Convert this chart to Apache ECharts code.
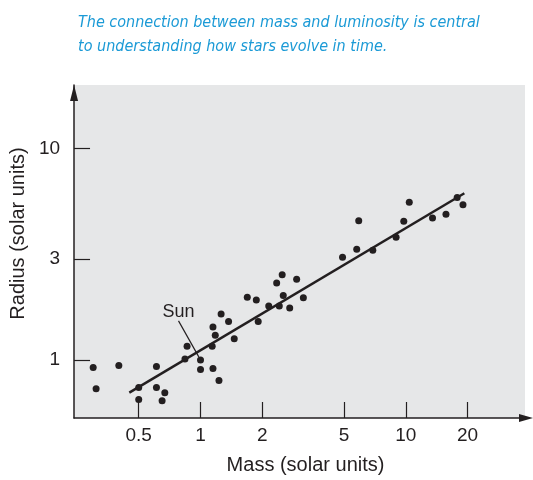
<!DOCTYPE html>
<html>
<head>
<meta charset="utf-8">
<script src="https://cdn.jsdelivr.net/npm/echarts@6/dist/echarts.min.js"></script>
<style>
  html, body { margin: 0; padding: 0; background: #fff; }
  #chart-mass-radius { width: 533px; height: 480px; }
</style>
</head>
<body>
<div id="chart-mass-radius"></div>
<script>
// main-sequence stars: mass vs radius (solar units)
const STAR_MASS = [0.30, 0.31, 0.40, 0.61, 0.50, 0.50, 0.61, 0.67, 0.65, 0.86, 0.84, 1.00,
  1.00, 1.15, 1.23, 1.14, 1.18, 1.15, 1.26, 1.37, 1.46, 1.69, 1.87, 1.91, 2.15, 2.42, 2.35,
  2.50, 2.53, 2.72, 2.94, 3.17, 4.92, 5.90, 5.77, 6.91, 8.97, 9.78, 10.4, 13.5, 15.7, 17.8, 19.0];
const STAR_RADIUS = [0.92, 0.73, 0.94, 0.93, 0.74, 0.65, 0.74, 0.70, 0.64, 1.16, 1.01, 1.00,
  0.90, 0.91, 0.80, 1.16, 1.31, 1.43, 1.65, 1.52, 1.26, 1.98, 1.92, 1.52, 1.80, 1.80, 2.31,
  2.53, 2.02, 1.76, 2.41, 1.97, 3.06, 4.56, 3.34, 3.30, 3.81, 4.53, 5.58, 4.70, 4.89, 5.87, 5.42];
const SUN_INDEX = 11;
const SUN_LABEL = 'Sun';

// fitted trend line end points
const FIT_MASS = [0.45, 19.3];
const FIT_RADIUS = [0.70, 6.15];

const MASS_TICKS = [0.5, 1, 2, 5, 10, 20];
const RADIUS_TICKS = [1, 3, 10];
const MASS_RANGE = [0.242, 38.1];
const RADIUS_RANGE = [0.531, 20];

const TITLE = 'The connection between mass and luminosity is central\nto understanding how stars evolve in time.';
const X_NAME = 'Mass (solar units)';
const Y_NAME = 'Radius (solar units)';

const INK = '#231f20';
const FONT = "'Liberation Sans', Arial, Helvetica, sans-serif";

const lg = v => Math.log10(v);
const fmt = v => String(+Math.pow(10, v).toPrecision(2));

const starData = STAR_MASS.map((m, i) => {
  const item = { value: [lg(m), lg(STAR_RADIUS[i])] };
  if (i === SUN_INDEX) {
    item.label = { show: true, formatter: SUN_LABEL };
    item.labelLine = { show: true };
  }
  return item;
});
const fitData = FIT_MASS.map((m, i) => [lg(m), lg(FIT_RADIUS[i])]);

function axisCommon(ticks, range) {
  return {
    type: 'value',
    min: lg(range[0]),
    max: lg(range[1]),
    splitLine: { show: false },
    axisLine: {
      show: true,
      onZero: false,
      lineStyle: { color: INK, width: 1.5 }
    },
    axisTick: {
      show: true,
      inside: true,
      length: 16,
      customValues: ticks.map(lg),
      lineStyle: { color: INK, width: 1.2 }
    },
    axisLabel: {
      customValues: ticks.map(lg),
      formatter: fmt,
      color: INK,
      fontSize: 19,
      fontFamily: FONT
    }
  };
}

const xAxis = axisCommon(MASS_TICKS, MASS_RANGE);
xAxis.axisLine.symbol = ['none', 'triangle'];
xAxis.axisLine.symbolSize = [8, 14];
xAxis.axisLine.symbolOffset = [0, 1];
xAxis.axisLabel.margin = 8;
Object.assign(xAxis, {
  name: X_NAME,
  nameLocation: 'middle',
  nameGap: 37,
  nameTextStyle: { color: INK, fontSize: 20, fontFamily: FONT, padding: [0, 0, 0, 12] }
});

const yAxis = axisCommon(RADIUS_TICKS, RADIUS_RANGE);
yAxis.axisLine.symbol = ['none', 'triangle'];
yAxis.axisLine.symbolSize = [8, 16];
yAxis.axisLine.symbolOffset = [0, -8];
yAxis.axisLabel.margin = 14;
Object.assign(yAxis, {
  name: Y_NAME,
  nameLocation: 'middle',
  nameRotate: 90,
  nameGap: 42,
  nameTextStyle: { color: INK, fontSize: 20, fontFamily: FONT, padding: [0, 0, 0, 36] }
});

const chart = echarts.init(document.getElementById('chart-mass-radius'));
chart.setOption({
  animation: false,
  title: {
    text: TITLE,
    left: 73,
    top: 6,
    textStyle: {
      color: '#1b9ad6',
      fontStyle: 'italic',
      fontWeight: 'normal',
      fontSize: 16,
      lineHeight: 24,
      fontFamily: "'Liberation Sans Narrow', 'DejaVu Sans Condensed', Roboto, sans-serif"
    }
  },
  grid: {
    left: 74, right: 8, top: 85, bottom: 59,
    show: true,
    backgroundColor: '#e6e7e8',
    borderWidth: 0
  },
  xAxis: xAxis,
  yAxis: yAxis,
  series: [
    {
      type: 'line',
      data: fitData,
      symbol: 'none',
      lineStyle: { color: INK, width: 2.5 },
      z: 2
    },
    {
      type: 'scatter',
      data: starData,
      symbolSize: 7,
      itemStyle: { color: INK, opacity: 1 },
      label: {
        show: false,
        position: 'inside',
        color: INK,
        fontSize: 18,
        fontFamily: FONT
      },
      labelLine: { lineStyle: { color: INK, width: 1.2, opacity: 1 } },
      labelLayout: p => (p.dataIndex === SUN_INDEX ? { dx: -22, dy: -48 } : {}),
      z: 3
    }
  ]
});
window.addEventListener('resize', () => chart.resize());
</script>
</body>
</html>
